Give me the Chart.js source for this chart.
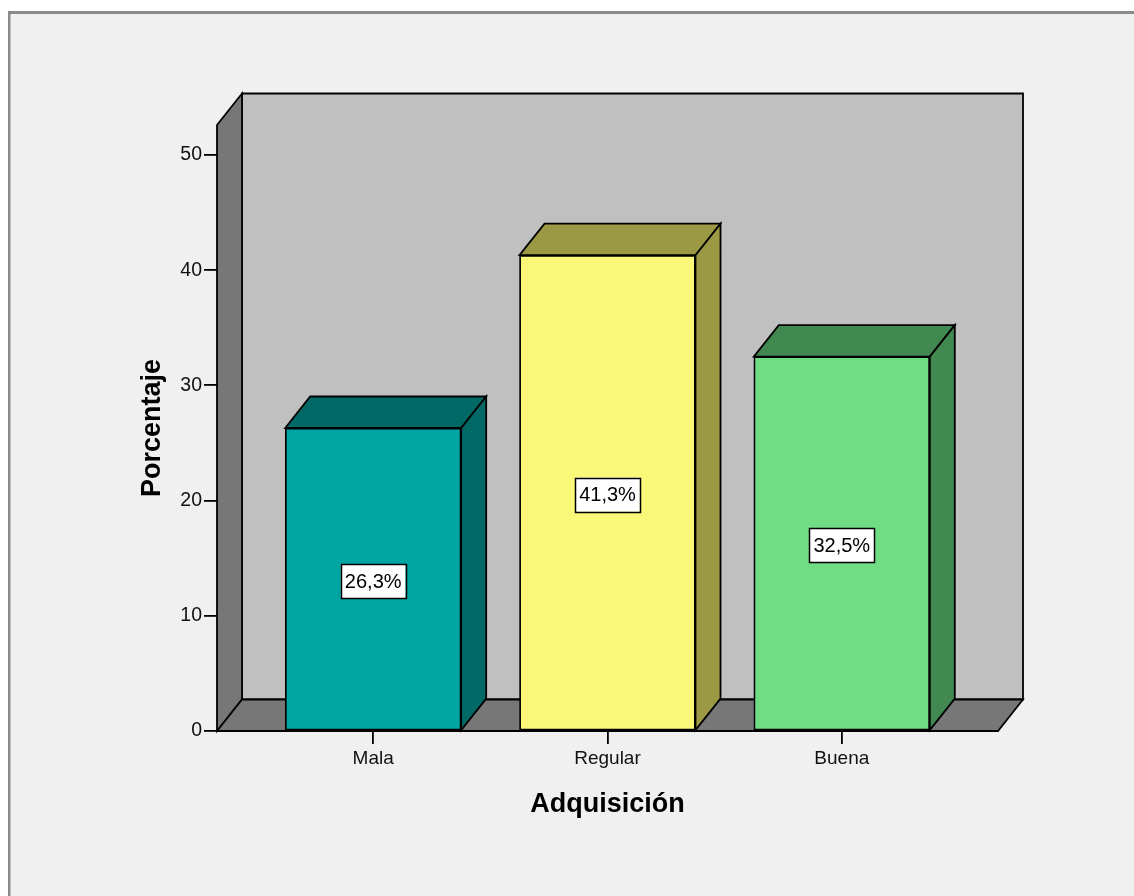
<!DOCTYPE html>
<html lang="es">
<head>
<meta charset="utf-8">
<title>Adquisición</title>
<script src="https://cdn.jsdelivr.net/npm/chart.js@4.4.1/dist/chart.umd.min.js"></script>
<style>
  html, body { margin: 0; padding: 0; background: #ffffff; }
  canvas { display: block; }
</style>
</head>
<body>
<canvas id="chart" width="1134" height="896"></canvas>
<script>
// Categories and percentages
const categories = ['Mala', 'Regular', 'Buena'];
const porcentajes = [26.3, 41.3, 32.5];
const yTickValues = [0, 10, 20, 30, 40, 50];
const yMax = 52.6;

// Bar colours: front face, then top/side faces
const frontColors = ['#00a6a3', '#fbf778', '#70dd85'];
const shadeColors = ['#006966', '#9c9945', '#418851'];

// 3D depth offset and wall colours
const depth = { dx: 25, dy: -31.5 };
const wallBack = '#c0c0c0';
const wallSide = '#777777';
const edgeColor = '#000000';
const edgeWidth = 1.8;

const fmt = v => v.toFixed(1).replace('.', ',') + '%';

function poly(ctx, pts, fill) {
  ctx.beginPath();
  ctx.moveTo(pts[0][0], pts[0][1]);
  for (let i = 1; i < pts.length; i++) ctx.lineTo(pts[i][0], pts[i][1]);
  ctx.closePath();
  ctx.fillStyle = fill;
  ctx.fill();
  ctx.stroke();
}

const scene3d = {
  id: 'scene3d',
  beforeDraw(chart) {
    const { ctx, width, height } = chart;
    const { left: L, right: R, top: T, bottom: B } = chart.chartArea;
    const { dx, dy } = depth;
    ctx.save();
    // page and panel
    ctx.fillStyle = '#ffffff';
    ctx.fillRect(0, 0, width, height);
    ctx.fillStyle = '#f0f0f0';
    ctx.fillRect(9, 12, width, height);
    ctx.fillStyle = '#8a8a8a';
    ctx.fillRect(8, 11, width, 3);
    ctx.fillRect(8, 11, 2.5, height);

    // walls and floor
    ctx.strokeStyle = edgeColor;
    ctx.lineWidth = edgeWidth;
    ctx.lineJoin = 'miter';
    poly(ctx, [[L + dx, T + dy], [R + dx, T + dy], [R + dx, B + dy], [L + dx, B + dy]], wallBack);
    poly(ctx, [[L, T], [L + dx, T + dy], [L + dx, B + dy], [L, B]], wallSide);
    poly(ctx, [[L, B], [R, B], [R + dx, B + dy], [L + dx, B + dy]], wallSide);
    ctx.restore();
  },
  afterDatasetsDraw(chart) {
    const { ctx } = chart;
    const { dx, dy } = depth;
    const meta = chart.getDatasetMeta(0);
    ctx.save();
    ctx.strokeStyle = edgeColor;
    ctx.lineWidth = edgeWidth;
    meta.data.forEach((bar, i) => {
      const p = bar.getProps(['x', 'y', 'base', 'width'], true);
      const x0 = p.x - p.width / 2, x1 = p.x + p.width / 2;
      const yt = p.y, yb = p.base;
      // top face
      poly(ctx, [[x0, yt], [x1, yt], [x1 + dx, yt + dy], [x0 + dx, yt + dy]], shadeColors[i]);
      // right side face
      poly(ctx, [[x1, yt], [x1 + dx, yt + dy], [x1 + dx, yb + dy], [x1, yb]], shadeColors[i]);
    });
    // value labels
    ctx.font = '20px "Liberation Sans", Arial, sans-serif';
    ctx.textAlign = 'center';
    ctx.textBaseline = 'middle';
    meta.data.forEach((bar, i) => {
      const p = bar.getProps(['x', 'y', 'base'], true);
      const text = fmt(porcentajes[i]);
      const cy = (p.y + p.base) / 2 + 2;
      const w = ctx.measureText(text).width + 8;
      const h = 34;
      ctx.fillStyle = '#ffffff';
      ctx.fillRect(p.x - w / 2, cy - h / 2, w, h);
      ctx.lineWidth = 1.5;
      ctx.strokeStyle = '#000000';
      ctx.strokeRect(Math.round(p.x - w / 2) + 0.5, Math.round(cy - h / 2) + 0.5, Math.round(w), h);
      ctx.fillStyle = '#000000';
      ctx.fillText(text, p.x, cy + 1);
    });
    ctx.restore();
  }
};

Chart.defaults.font.family = '"Liberation Sans", Arial, sans-serif';
Chart.defaults.color = '#111111';

new Chart(document.getElementById('chart'), {
  type: 'bar',
  data: {
    datasets: [{
      label: 'Porcentaje',
      data: porcentajes.map((v, i) => ({ x: i, y: v })),
      backgroundColor: frontColors,
      borderColor: edgeColor,
      borderWidth: 1.8,
      borderSkipped: false,
      barThickness: 176
    }]
  },
  options: {
    responsive: false,
    animation: false,
    devicePixelRatio: 1,
    layout: { padding: { left: 0, top: 125, right: 136, bottom: 0 } },
    plugins: {
      legend: { display: false },
      tooltip: { enabled: false }
    },
    scales: {
      x: {
        type: 'linear',
        min: -2 / 3,
        max: categories.length - 1 + 2 / 3,
        offset: false,
        afterBuildTicks: s => { s.ticks = categories.map((_, i) => ({ value: i })); },
        afterFit: s => { s.height = 165; },
        ticks: {
          callback: v => categories[v],
          font: { size: 19 },
          padding: 3.6,
          maxRotation: 0,
          autoSkip: false
        },
        grid: {
          offset: false,
          drawOnChartArea: false,
          drawTicks: true,
          tickLength: 13,
          color: '#000000',
          lineWidth: 1.8
        },
        border: { display: false },
        title: {
          display: true,
          text: 'Adquisición',
          color: '#000000',
          font: { size: 27, weight: 'bold' },
          padding: { top: 0, bottom: 75 }
        }
      },
      y: {
        min: 0,
        max: yMax,
        afterBuildTicks: s => { s.ticks = yTickValues.map(v => ({ value: v })); },
        afterFit: s => { s.width = 217; },
        ticks: {
          font: { size: 19.5 },
          padding: 2
        },
        grid: {
          drawOnChartArea: false,
          drawTicks: true,
          tickLength: 13,
          color: '#000000',
          lineWidth: 1.8
        },
        border: { display: false },
        title: {
          display: true,
          text: 'Porcentaje',
          color: '#000000',
          font: { size: 27, weight: 'bold' },
          padding: { top: 136, bottom: 0 }
        }
      }
    }
  },
  plugins: [scene3d]
});
</script>
</body>
</html>
